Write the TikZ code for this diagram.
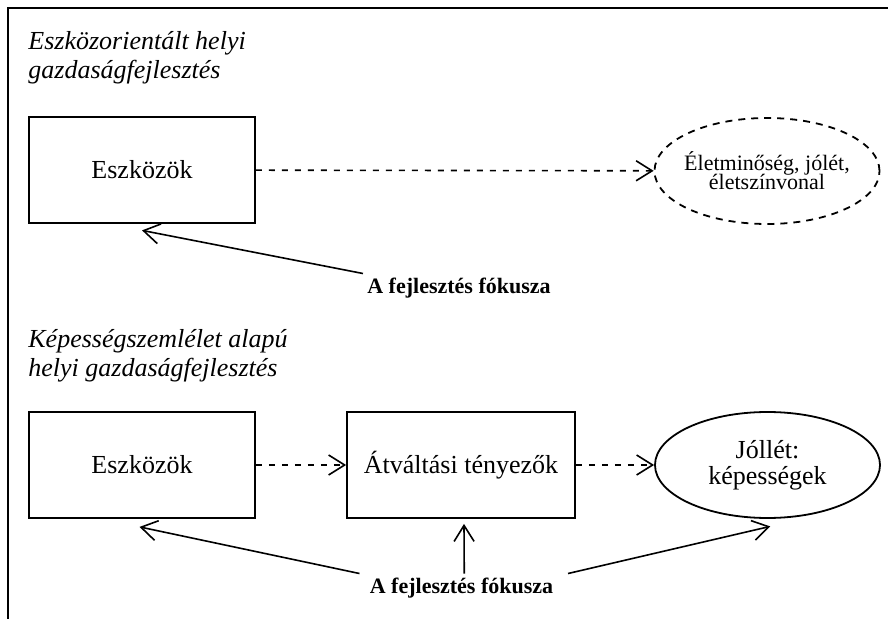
\documentclass[tikz,border=0pt]{standalone}
\usepackage{fontspec}
\setmainfont{Liberation Serif}
\usetikzlibrary{arrows.meta,shapes.geometric}
\newcommand\tightskip{\lineskiplimit=-\maxdimen\relax}

\begin{document}
\begin{tikzpicture}[scale=0.5,x=1pt,y=-1pt,
  box/.style={draw,line width=0.9pt,minimum width=113pt,minimum height=53pt,inner sep=0pt,font=\fontsize{13}{13}\selectfont},
  oval/.style={ellipse,draw,line width=0.9pt,minimum width=112.5pt,minimum height=53pt,inner sep=0pt,align=center},
  heading/.style={anchor=base west,align=left,inner sep=0pt,font=\fontsize{13}{14.5}\selectfont\itshape},
  focus/.style={font=\fontsize{11}{11}\selectfont\bfseries,inner sep=2pt},
  flow/.style={draw,line width=0.8pt,dash pattern=on 3pt off 3.5pt,-{Straight Barb[length=8pt,width=10pt]}},
  pointer/.style={draw,line width=0.8pt,-{Straight Barb[length=8pt,width=10pt]}}]
\useasboundingbox (0,0) rectangle (888,619);
% Drawing frame
\draw[line width=1.3pt] (888,8) -- (8,8) -- (8,619);
% Upper part: eszkozorientalt
\node[heading] (head1) at (28,79) {Eszközorientált helyi\\gazdaságfejlesztés};
\node[box] (tools1) at (142,170) {Eszközök};
\node[oval,inner sep=-3pt,dash pattern=on 3.5pt off 3pt,font=\fontsize{11}{9.5}\selectfont\tightskip] (life) at (767,171) {Életminőség, jólét,\\életszínvonal};
\node[focus] (focus1) at (459,288) {A fejlesztés fókusza};
\draw[flow] (tools1) -- (life);
\draw[pointer] (focus1.north west) -- ([yshift=-6.5pt]tools1.south);
% Lower part: kepessegszemlelet
\node[heading] (head2) at (28,377) {Képességszemlélet alapú\\helyi gazdaságfejlesztés};
\node[box] (tools2) at (142,465) {Eszközök};
\node[box,minimum width=114pt] (conv) at (461,465) {Átváltási tényezők};
\node[oval,font=\fontsize{13}{13}\selectfont] (wellb) at (767.5,465) {Jóllét:\\képességek};
\node[focus] (focus2) at (461.5,588) {A fejlesztés fókusza};
\draw[flow] (tools2) -- (conv);
\draw[flow] (conv) -- (wellb);
\draw[pointer] ([xshift=-6pt]focus2.north west) -- ([xshift=-2.5pt,yshift=-8pt]tools2.south);
\draw[pointer] ([xshift=2.75pt]focus2.north) -- ([xshift=3pt,yshift=-5pt]conv.south);
\draw[pointer] ([xshift=10.5pt]focus2.north east) -- ([xshift=2.75pt,yshift=-7.5pt]wellb.south);
% Done
\end{tikzpicture}
\end{document}
